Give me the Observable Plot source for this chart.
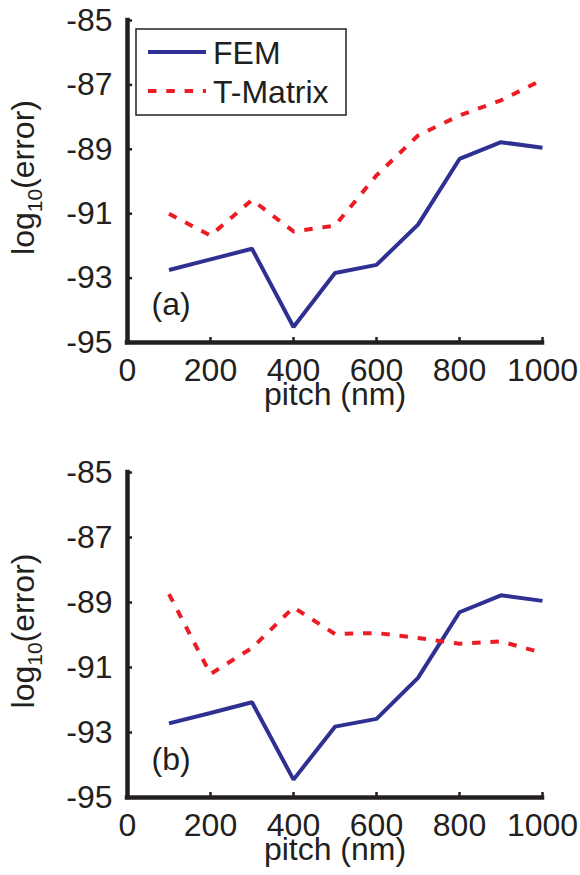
<!DOCTYPE html>
<html>
<head>
<meta charset="utf-8">
<script src="https://cdn.jsdelivr.net/npm/d3@7"></script>
<script src="https://cdn.jsdelivr.net/npm/@observablehq/plot@0.6"></script>
<style>
  html, body { margin: 0; padding: 0; background: #fff; }
  #chart { width: 580px; position: relative; }
  #chart svg { display: block; }
</style>
</head>
<body>
<div id="chart"></div>
<script>
// ---- data ----
const pitch = [100, 200, 300, 400, 500, 600, 700, 800, 900, 1000];
const femA  = [-92.75, -92.42, -92.09, -94.52, -92.84, -92.59, -91.34, -89.30, -88.78, -88.95];
const tmatA = [-91.00, -91.68, -90.57, -91.55, -91.37, -89.81, -88.57, -87.95, -87.48, -86.84];
const femB  = [-92.72, -92.40, -92.07, -94.45, -92.82, -92.58, -91.32, -89.30, -88.78, -88.95];
const tmatB = [-88.74, -91.20, -90.40, -89.15, -89.97, -89.94, -90.09, -90.27, -90.20, -90.55];
const xTicks = [0, 200, 400, 600, 800, 1000];
const yTicks = [-95, -93, -91, -89, -87, -85];
const seriesNames = ["FEM", "T-Matrix"];
const panelLabels = ["(a)", "(b)"];
const xLabel = "pitch (nm)";
const yLabel = "log10(error)";

const ink = "#231f20";
const blue = "#2e3192";
const red = "#ed1c24";
const dash = "8.5,9.8";
const font = "'Liberation Sans', Arial, Helvetica, sans-serif";
const fs = 32;

function panel(fem, tmat, label, height, marginBottom, withLegend) {
  const W = 580, mL = 127, mR = 38, mT = 20;
  const innerW = W - mL - mR, innerH = height - mT - marginBottom;
  const rows = pitch.map((p, i) => ({pitch: p, fem: fem[i], tmat: tmat[i]}));
  const svg = Plot.plot({
    width: W, height,
    marginLeft: mL, marginRight: mR, marginTop: mT, marginBottom,
    style: {fontFamily: font, fontSize: fs + "px", color: ink, background: "#fff", overflow: "visible"},
    x: {domain: [0, 1000]},
    y: {domain: [-95, -85]},
    marks: [
      Plot.line(rows, {x: "pitch", y: "fem", stroke: blue, strokeWidth: 4, strokeLinecap: "butt", strokeLinejoin: "miter"}),
      Plot.line(rows, {x: "pitch", y: "tmat", stroke: red, strokeWidth: 4, strokeDasharray: dash, strokeLinecap: "butt", strokeLinejoin: "miter"}),
      Plot.ruleX([0], {stroke: ink, strokeWidth: 4.5, strokeLinecap: "square"}),
      Plot.ruleY([-95], {stroke: ink, strokeWidth: 4.5, strokeLinecap: "square"}),
      Plot.tickX(xTicks, {x: d => d, insetTop: innerH - 5, stroke: ink, strokeWidth: 2.5}),
      Plot.tickY(yTicks, {y: d => d, insetRight: innerW - 5, stroke: ink, strokeWidth: 2.5}),
      Plot.axisX(xTicks, {tickSize: 0, tickPadding: 16, tickFormat: d => String(d), label: null, fill: ink, fontSize: fs}),
      Plot.axisY(yTicks, {tickSize: 0, tickPadding: 15, tickFormat: d => String(d), label: null, fill: ink, fontSize: fs}),
      Plot.text([xLabel], {text: d => d, frameAnchor: "bottom", textAnchor: "middle", dy: 62, fill: ink, fontSize: fs}),
      Plot.text([yLabel], {text: d => d, frameAnchor: "left", textAnchor: "middle", rotate: -90, dx: -104, dy: -4, fill: ink, fontSize: fs}),
      Plot.text([label], {text: d => d, frameAnchor: "bottom-left", textAnchor: "start", dx: 24, dy: -28, fill: ink, fontSize: fs})
    ]
  });

  // subscript in the y label
  d3.select(svg).selectAll("text").each(function () {
    if (this.textContent === yLabel) {
      const t = d3.select(this);
      t.text(null);
      t.append("tspan").text("log");
      t.append("tspan").attr("font-size", "21px").attr("dy", 8).text("10");
      t.append("tspan").attr("dy", -8).text("(error)");
    }
  });

  if (withLegend) {
    const g = d3.select(svg).append("g")
      .attr("font-family", font).attr("font-size", fs + "px").attr("fill", ink).attr("text-anchor", "start");
    g.append("rect").attr("x", 136).attr("y", 29).attr("width", 210).attr("height", 86)
      .attr("fill", "#fff").attr("stroke", ink).attr("stroke-width", 1.5);
    const colors = [blue, red];
    const dashes = [null, dash];
    seriesNames.forEach((name, i) => {
      const cy = 52 + i * 39;
      g.append("line").attr("x1", 148).attr("x2", 206).attr("y1", cy).attr("y2", cy)
        .attr("stroke", colors[i]).attr("stroke-width", 4).attr("stroke-dasharray", dashes[i]);
      g.append("text").attr("x", 213).attr("y", cy + 11.5).attr("text-anchor", "start").text(name);
    });
  }
  return svg;
}

const chart = document.getElementById("chart");
chart.appendChild(panel(femA, tmatA, panelLabels[0], 452, 110, true));
chart.appendChild(panel(femB, tmatB, panelLabels[1], 423, 78, false));
</script>
</body>
</html>
